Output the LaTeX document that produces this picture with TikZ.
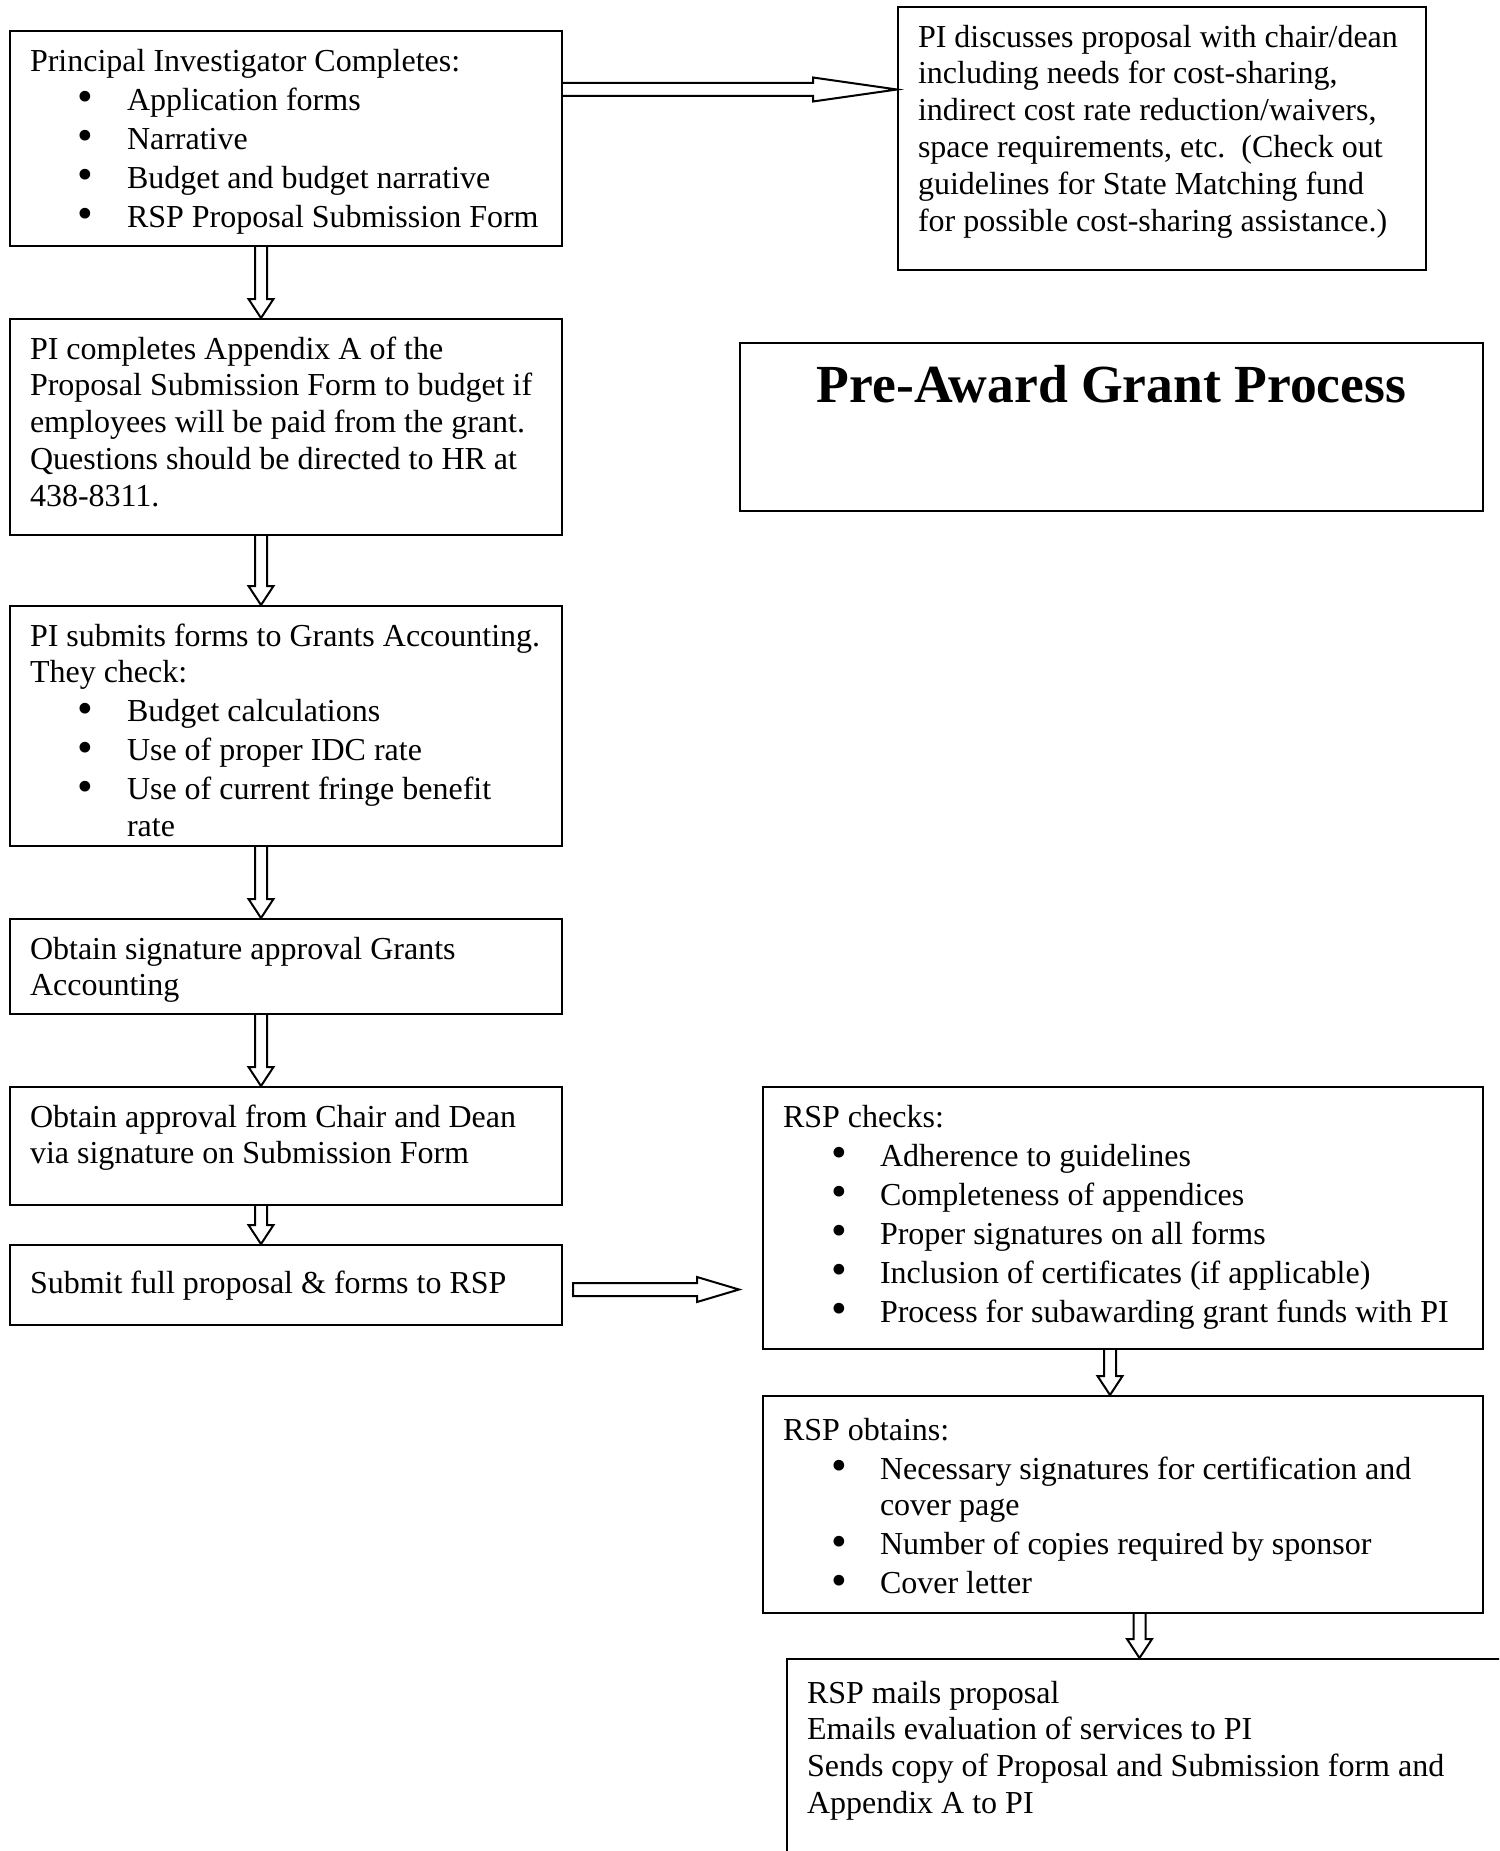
\documentclass[tikz,border=0pt]{standalone}
\usepackage{fontspec}
\setmainfont{Liberation Serif}
\usetikzlibrary{calc}
\setlength{\parindent}{0pt}
\newcommand{\boxtext}[4][1.2pt]{\begin{minipage}[t][\dimexpr#3pt-12pt\relax][t]{\dimexpr#2pt-20pt\relax}\raggedright\vspace*{#1}\leavevmode\strut#4\end{minipage}}
\newcommand{\bitem}[1]{\par\vspace{1.1pt}\hangindent=48.5pt\hangafter=1\makebox[48.5pt][l]{\hspace*{24pt}\raisebox{-0.6pt}{\scalebox{1.4}{\textbullet}}}#1}
\newcommand{\downblock}[3]{\draw[blockarrow] let \p1=(#2.south),\p2=(#3.north) in (#1pt-3pt,\y1)--(#1pt-3pt,\y2+9.5pt)--(#1pt-6.25pt,\y2+9.5pt)--(#1pt,\y2)--(#1pt+6.25pt,\y2+9.5pt)--(#1pt+3pt,\y2+9.5pt)--(#1pt+3pt,\y1);}

\begin{document}
\begin{tikzpicture}[x=1pt,y=-1pt,
box/.style={draw,line width=1pt,anchor=north west,inner xsep=10pt,inner ysep=6pt,font=\fontsize{16}{18.4}\selectfont},
blockarrow/.style={draw,line width=1pt,line join=miter}]
\useasboundingbox (0,0) rectangle (749.5,925.5);
\clip (0,0) rectangle (749.5,925.5);
\node[box] (pic) at (4.5,15) {\boxtext{276}{107.5}{Principal Investigator Completes:
\bitem{Application forms}
\bitem{Narrative}
\bitem{Budget and budget narrative}
\bitem{RSP Proposal Submission Form}}};
\node[box] (disc) at (448.5,3) {\boxtext{264}{131.5}{PI discusses proposal with chair/dean\\
including needs for cost-sharing,\\
indirect cost rate reduction/waivers,\\
space requirements, etc.\ \ (Check out\\
guidelines for State Matching fund\\
for possible cost-sharing assistance.)}};
\node[box] (title) at (369.5,171) {\boxtext[5pt]{371.5}{84}{\centering\fontsize{26.8}{30}\selectfont\bfseries Pre-Award Grant Process}};
\node[box] (appx) at (4.5,159) {\boxtext{276}{108}{PI completes Appendix A of the\\
Proposal Submission Form to budget if\\
employees will be paid from the grant.\\
Questions should be directed to HR at\\
438-8311.}};
\node[box] (grants) at (4.5,302.5) {\boxtext{276}{120}{PI submits forms to Grants Accounting.\\
They check:
\bitem{Budget calculations}
\bitem{Use of proper IDC rate}
\bitem{Use of current fringe benefit\newline rate}}};
\node[box] (sign) at (4.5,459) {\boxtext{276}{47.5}{Obtain signature approval Grants\\
Accounting}};
\node[box] (chair) at (4.5,543) {\boxtext{276}{59}{Obtain approval from Chair and Dean\\
via signature on Submission Form}};
\node[box] (submit) at (4.5,622) {\boxtext[5.4pt]{276}{40}{Submit full proposal \& forms to RSP}};
\node[box] (checks) at (381,543) {\boxtext{360}{131}{RSP checks:
\bitem{Adherence to guidelines}
\bitem{Completeness of appendices}
\bitem{Proper signatures on all forms}
\bitem{Inclusion of certificates (if applicable)}
\bitem{Process for subawarding grant funds with PI}}};
\node[box] (obtain) at (381,697.5) {\boxtext[3.2pt]{360}{108.5}{RSP obtains:
\bitem{Necessary signatures for certification and\newline cover page}
\bitem{Number of copies required by sponsor}
\bitem{Cover letter}}};
\node[box] (mail) at (393,829) {\boxtext[3.2pt]{370}{120}{RSP mails proposal\\
Emails evaluation of services to PI\\
Sends copy of Proposal and Submission form and\\
Appendix A to PI}};
\draw[blockarrow] let \p1=($(pic.north east)+(0,29.75)$),\p2=(disc.west) in (\x1,\y1+3.25pt)--(\x2-42pt,\y1+3.25pt)--(\x2-42pt,\y1+6pt)--(\x2,\y1)--(\x2-42pt,\y1-6pt)--(\x2-42pt,\y1-3.25pt)--(\x1,\y1-3.25pt);
\draw[blockarrow] let \p1=($(submit.north east)+(5,22.75)$),\p2=($(checks.west)+(-11.5,0)$) in (\x1,\y1+3.25pt)--(\x2-21pt,\y1+3.25pt)--(\x2-21pt,\y1+6.25pt)--(\x2,\y1)--(\x2-21pt,\y1-6.25pt)--(\x2-21pt,\y1-3.25pt)--(\x1,\y1-3.25pt)--cycle;
\downblock{130.5}{pic}{appx}
\downblock{130.5}{appx}{grants}
\downblock{130.5}{grants}{sign}
\downblock{130.5}{sign}{chair}
\downblock{130.5}{chair}{submit}
\downblock{555}{checks}{obtain}
\downblock{569.75}{obtain}{mail}
\end{tikzpicture}
\end{document}
